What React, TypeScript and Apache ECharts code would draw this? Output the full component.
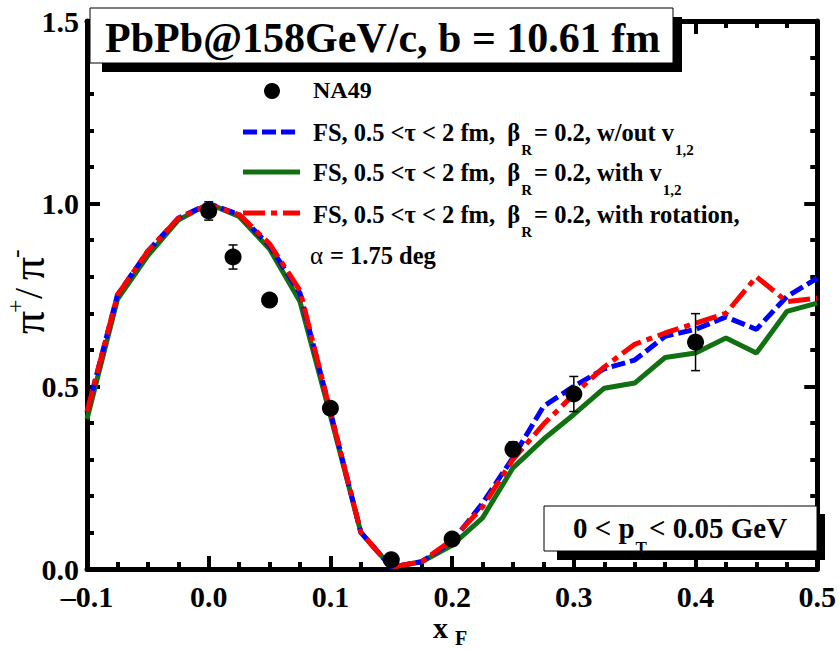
import React, { useEffect, useRef } from 'react';
import * as echarts from 'echarts';

// x_F sampling of the model curves
const xF = [-0.1, -0.075, -0.05, -0.025, 0, 0.025, 0.05, 0.075, 0.1, 0.125, 0.15, 0.175, 0.2, 0.225, 0.25, 0.275, 0.3, 0.325, 0.35, 0.375, 0.4, 0.425, 0.45, 0.475, 0.5];
// FS, beta_R = 0.2, w/out v1,2 (blue dashed)
const withoutV12 = [0.43, 0.75, 0.87, 0.96, 1.0, 0.97, 0.885, 0.755, 0.43, 0.1, 0.005, 0.02, 0.075, 0.18, 0.305, 0.445, 0.5, 0.548, 0.572, 0.637, 0.656, 0.69, 0.656, 0.746, 0.796];
// FS, beta_R = 0.2, with v1,2 (green solid)
const withV12 = [0.41, 0.738, 0.858, 0.955, 1.0, 0.965, 0.876, 0.732, 0.42, 0.1, 0.005, 0.02, 0.065, 0.14, 0.277, 0.355, 0.423, 0.495, 0.509, 0.579, 0.591, 0.632, 0.591, 0.705, 0.728];
// FS, beta_R = 0.2, with rotation (red dash-dot)
const withRotation = [0.43, 0.75, 0.87, 0.96, 0.997, 0.97, 0.89, 0.762, 0.43, 0.1, 0.005, 0.02, 0.08, 0.17, 0.3, 0.396, 0.478, 0.553, 0.615, 0.646, 0.673, 0.7, 0.8, 0.732, 0.741];
// NA49 data
const na49X = [0.0, 0.02, 0.05, 0.1, 0.15, 0.2, 0.25, 0.3, 0.4];
const na49Y = [0.98, 0.854, 0.736, 0.44, 0.025, 0.082, 0.328, 0.479, 0.621];
const na49Err = [0.025, 0.033, 0.012, 0.012, 0.01, 0.01, 0.02, 0.048, 0.078];

const xTickLabels = ['\u20130.1', '0.0', '0.1', '0.2', '0.3', '0.4', '0.5'];
const yTickLabels = ['0.0', '0.5', '1.0', '1.5'];

const FONT = '"Liberation Serif", "Times New Roman", serif';
const BLUE = '#0000ff';
const GREEN = '#117011';
const RED = '#ff0000';

function txt(x: number, y: number, text: string, size: number, bold = true, extra: any = {}) {
  return {
    type: 'text',
    x,
    y,
    z: 100,
    style: {
      text,
      fontSize: size,
      fontWeight: bold ? 'bold' : 'normal',
      fontFamily: FONT,
      fill: '#000',
      verticalAlign: 'middle',
      align: 'left',
      ...extra,
    },
  };
}

let measureCtx: CanvasRenderingContext2D | null = null;
function measure(text: string, size: number, bold = true) {
  if (!measureCtx) measureCtx = document.createElement('canvas').getContext('2d');
  if (!measureCtx) return text.length * size * 0.5;
  measureCtx.font = `${bold ? 'bold ' : ''}${size}px ${FONT}`;
  return measureCtx.measureText(text).width;
}

// a line of text with lowered subscripts; segments alternate main / subscript
function subLine(x0: number, y: number, segs: [string, boolean][], main: number, sub: number, drop: number, center = false, z = 100) {
  const widths = segs.map(([t, isSub]) => measure(t, isSub ? sub : main) + (isSub ? 3 : 0));
  const total = widths.reduce((a, b) => a + b, 0);
  let x = center ? x0 - total / 2 : x0;
  const out: any[] = [];
  segs.forEach(([t, isSub], i) => {
    const el = txt(isSub ? x + 1 : x, isSub ? y + drop : y, t, isSub ? sub : main);
    el.z = z;
    out.push(el);
    x += widths[i];
  });
  return out;
}

export default function App() {
  const ref = useRef<HTMLDivElement>(null);
  useEffect(() => {
    if (!ref.current) return;
    const chart = echarts.init(ref.current, undefined, { renderer: 'svg' });

    const tick = { inside: true, length: 13, lineStyle: { color: '#000', width: 4 } };
    const axisLine = { onZero: false, lineStyle: { color: '#000', width: 5 } };
    const xCommon = {
      type: 'value',
      min: -0.1,
      max: 0.5,
      interval: 0.1,
      axisLine,
      axisTick: tick,
      minorTick: { show: true, splitNumber: 4, length: 7, lineStyle: { color: '#000', width: 4 } },
      splitLine: { show: false },
      minorSplitLine: { show: false },
    };
    const yCommon = {
      type: 'value',
      min: 0,
      max: 1.5,
      interval: 0.5,
      axisLine,
      axisTick: tick,
      minorTick: { show: true, splitNumber: 5, length: 7, lineStyle: { color: '#000', width: 4 } },
      splitLine: { show: false },
      minorSplitLine: { show: false },
    };
    const labelStyle = { color: '#000', fontSize: 30, fontWeight: 'bold', fontFamily: FONT, lineHeight: 24 };

    const lineSeries = (name: string, ys: number[], color: string, type: any, z: number) => ({
      name,
      type: 'line',
      data: xF.map((x, i) => [x, ys[i]]),
      showSymbol: false,
      symbol: 'none',
      z,
      lineStyle: { color, width: 5, type, cap: 'butt' },
    });

    const LF = 24.5;
    const option: any = {
      animation: false,
      grid: { left: 87, right: 19, top: 21, bottom: 81 },
      xAxis: [
        {
          ...xCommon,
          position: 'bottom',
          axisLabel: { ...labelStyle, margin: 15, formatter: (_v: number, i: number) => xTickLabels[i] },
        },
        { ...xCommon, position: 'top', axisLabel: { show: false } },
      ],
      yAxis: [
        {
          ...yCommon,
          position: 'left',
          axisLabel: { ...labelStyle, margin: 8, formatter: (_v: number, i: number) => yTickLabels[i] },
        },
        { ...yCommon, position: 'right', axisLabel: { show: false } },
      ],
      series: [
        lineSeries('with v12', withV12, GREEN, 'solid', 2),
        lineSeries('w/out v12', withoutV12, BLUE, [14, 5], 3),
        lineSeries('with rotation', withRotation, RED, [22, 6, 6, 6], 4),
        {
          name: 'NA49 err',
          type: 'custom',
          z: 5,
          data: na49X.map((x, i) => [x, na49Y[i], na49Err[i]]),
          encode: { x: 0, y: 1 },
          renderItem: (_p: any, api: any) => {
            const x = api.value(0);
            const y = api.value(1);
            const e = api.value(2);
            const t = api.coord([x, y + e]);
            const b = api.coord([x, y - e]);
            const hw = 4.5;
            const st = { stroke: '#000', lineWidth: 1.5 };
            return {
              type: 'group',
              children: [
                { type: 'line', shape: { x1: t[0], y1: t[1], x2: b[0], y2: b[1] }, style: st },
                { type: 'line', shape: { x1: t[0] - hw, y1: t[1], x2: t[0] + hw, y2: t[1] }, style: st },
                { type: 'line', shape: { x1: b[0] - hw, y1: b[1], x2: b[0] + hw, y2: b[1] }, style: st },
              ],
            };
          },
        },
        {
          name: 'NA49',
          type: 'scatter',
          z: 6,
          symbol: 'circle',
          symbolSize: 17,
          itemStyle: { color: '#000', opacity: 1 },
          data: na49X.map((x, i) => [x, na49Y[i]]),
        },
      ],
      graphic: [
        // title box with shadow
        { type: 'rect', z: 100, shape: { x: 102, y: 17, width: 580, height: 55 }, style: { fill: '#000' } },
        { type: 'rect', z: 101, shape: { x: 90, y: 8, width: 583, height: 55 }, style: { fill: '#fff', stroke: '#000', lineWidth: 1 } },
        { ...txt(105, 38, 'PbPb@158GeV/c, b = 10.61 fm', 42), z: 102 },
        // legend
        { type: 'circle', z: 100, shape: { cx: 272, cy: 91, r: 8 }, style: { fill: '#000' } },
        txt(313, 90, 'NA49', 24),
        { type: 'line', z: 100, shape: { x1: 243, y1: 132, x2: 300, y2: 132 }, style: { stroke: BLUE, lineWidth: 5, lineDash: [14, 5] } },
        ...subLine(313, 132, [['FS, 0.5 <\u03c4 < 2 fm,  \u03b2', false], ['R', true], ['= 0.2, w/out v', false], ['1,2', true]], LF, 15, 18),
        { type: 'line', z: 100, shape: { x1: 243, y1: 172, x2: 300, y2: 172 }, style: { stroke: GREEN, lineWidth: 5 } },
        ...subLine(313, 172, [['FS, 0.5 <\u03c4 < 2 fm,  \u03b2', false], ['R', true], ['= 0.2, with v', false], ['1,2', true]], LF, 15, 18),
        { type: 'line', z: 100, shape: { x1: 243, y1: 213, x2: 300, y2: 213 }, style: { stroke: RED, lineWidth: 5, lineDash: [22, 6, 6, 6] } },
        ...subLine(313, 214, [['FS, 0.5 <\u03c4 < 2 fm,  \u03b2', false], ['R', true], ['= 0.2, with rotation,', false]], LF, 15, 18),
        txt(310, 255, '\u03b1', 25, false),
        txt(330, 255, '= 1.75 deg', LF),
        // pT box
        { type: 'rect', z: 100, shape: { x: 557, y: 514, width: 268, height: 46 }, style: { fill: '#000' } },
        { type: 'rect', z: 101, shape: { x: 544, y: 506, width: 273, height: 45 }, style: { fill: '#fff', stroke: '#000', lineWidth: 1 } },
        ...subLine(680, 528, [['0 < p', false], ['T', true], ['< 0.05 GeV', false]], 29, 17, 19, true, 102),
        // x axis title
        txt(433, 627, 'x', 30),
        txt(455, 638, 'F', 20),
        // y axis title (rotated)
        {
          type: 'group',
          x: 28,
          y: 293,
          rotation: Math.PI / 2,
          z: 100,
          children: [
            txt(-41, 0, '\u03c0', 46, false),
            txt(-20, -13, '+', 24, false),
            txt(-6, 0, '/', 40, false),
            txt(13, 0, '\u03c0', 46, false),
            txt(35, -13, '-', 26, false),
          ],
        },
      ],
    };
    chart.setOption(option);
    return () => chart.dispose();
  }, []);
  return <div ref={ref} style={{ position: 'absolute', left: 0, top: 0, width: 839, height: 650 }} />;
}
